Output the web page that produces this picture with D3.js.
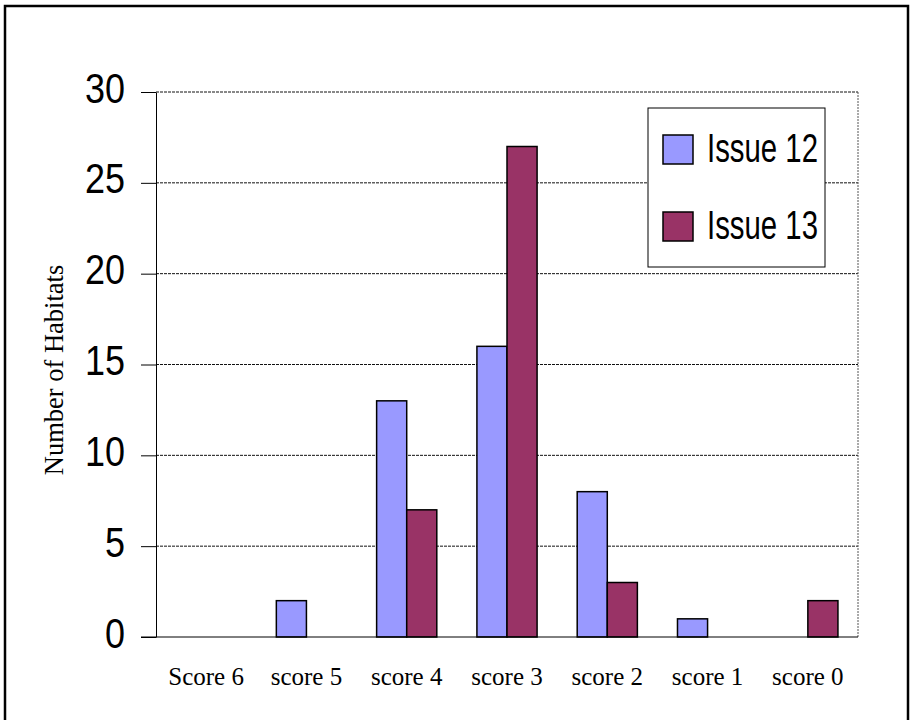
<!DOCTYPE html>
<html>
<head>
<meta charset="utf-8">
<script src="https://cdn.jsdelivr.net/npm/d3@7"></script>
<style>
  body { margin: 0; background: #fff; }
  svg { display: block; }
</style>
</head>
<body>
<div id="grafico"></div>
<script>
// datos
categorias = ['Score 6', 'score 5', 'score 4', 'score 3', 'score 2', 'score 1', 'score 0']
series     = ['Issue 12', 'Issue 13']
issue12    = [0, 2, 13, 16, 8, 1, 0]
issue13    = [0, 0, 7, 27, 3, 0, 2]
ticks_y    = [0, 5, 10, 15, 20, 25, 30]

COLORES = ['#9999ff', '#993366']
ANCHO_TOTAL = 913
ALTO_TOTAL  = 720
FUENTE_SANS  = 'Liberation Sans Narrow, Arial Narrow, Liberation Sans, sans-serif'
FUENTE_SERIF = 'Liberation Serif, Times New Roman, serif'

margins = { top: 92, left: 156, right: 55, bottom: 83 }
ancho = ANCHO_TOTAL - margins.left - margins.right
alto  = ALTO_TOTAL - margins.top - margins.bottom

svg = d3.select('#grafico').append('svg')
  .attr('width', ANCHO_TOTAL)
  .attr('height', ALTO_TOTAL)

// marco exterior
svg.append('rect')
  .attr('x', 5).attr('y', 6)
  .attr('width', 903).attr('height', 730)
  .attr('fill', 'none')
  .attr('stroke', '#000')
  .attr('stroke-width', 2.5)

g = svg.append('g').attr('transform', `translate(${margins.left},${margins.top})`)

fx  = d3.scaleBand().domain(categorias).range([0, ancho])
fx2 = d3.scaleBand().domain(series).range([fx.bandwidth() * 0.2, fx.bandwidth() * 0.8])
fy  = d3.scaleLinear().domain([0, 30]).range([alto, 0])

// lineas de la rejilla
g.selectAll('line.grid').data(ticks_y.filter(d => d > 0))
  .enter().append('line')
  .attr('class', 'grid')
  .attr('x1', 0).attr('x2', ancho)
  .attr('y1', d => fy(d)).attr('y2', d => fy(d))
  .attr('stroke', '#111')
  .attr('stroke-width', 1)
  .attr('stroke-dasharray', '3,1')

// borde derecho del area
g.append('line')
  .attr('x1', ancho).attr('x2', ancho)
  .attr('y1', 0).attr('y2', alto)
  .attr('stroke', '#555')
  .attr('stroke-width', 1)
  .attr('stroke-dasharray', '2,1')

// barras
datos = []
categorias.forEach((c, i) => {
  datos.push({ cat: c, serie: series[0], valor: issue12[i] })
  datos.push({ cat: c, serie: series[1], valor: issue13[i] })
})

g.selectAll('rect.barra').data(datos.filter(d => d.valor > 0))
  .enter().append('rect')
  .attr('class', 'barra')
  .attr('x', d => fx(d.cat) + fx2(d.serie))
  .attr('y', d => fy(d.valor))
  .attr('width', fx2.bandwidth())
  .attr('height', d => alto - fy(d.valor))
  .attr('fill', d => COLORES[series.indexOf(d.serie)])
  .attr('stroke', '#000')
  .attr('stroke-width', 1.5)

// eje y
ejeY = g.append('g')
  .call(d3.axisLeft(fy).tickValues(ticks_y).tickSize(15).tickSizeOuter(0).tickPadding(16))
ejeY.select('.domain').attr('stroke', '#000')
ejeY.selectAll('.tick line').attr('stroke', '#000')
ejeY.selectAll('.tick text')
  .attr('font-family', FUENTE_SANS)
  .attr('font-size', 42)
  .attr('fill', '#000')
  .attr('dy', 10)
  .attr('textLength', d => String(d).length * 20)
  .attr('lengthAdjust', 'spacingAndGlyphs')

// eje x
g.append('line')
  .attr('x1', -15).attr('x2', ancho)
  .attr('y1', alto).attr('y2', alto)
  .attr('stroke', '#000')

g.selectAll('text.cat').data(categorias)
  .enter().append('text')
  .attr('class', 'cat')
  .attr('x', d => fx(d) + fx.bandwidth() / 2)
  .attr('y', alto + 48)
  .attr('text-anchor', 'middle')
  .attr('font-family', FUENTE_SERIF)
  .attr('font-size', 25)
  .text(d => d)

// titulo eje y
svg.append('text')
  .attr('transform', 'translate(63,370) rotate(-90)')
  .attr('text-anchor', 'middle')
  .attr('font-family', FUENTE_SERIF)
  .attr('font-size', 26.5)
  .text('Number of Habitats')

// leyenda
leyenda = svg.append('g').attr('transform', 'translate(648,108)')
leyenda.append('rect')
  .attr('width', 177).attr('height', 159)
  .attr('fill', '#fff')
  .attr('stroke', '#000')
  .attr('stroke-width', 1)

items = leyenda.selectAll('g.item').data(series)
  .enter().append('g')
  .attr('class', 'item')
  .attr('transform', (d, i) => `translate(15,${27 + i * 77})`)

items.append('rect')
  .attr('width', 30).attr('height', 29)
  .attr('fill', (d, i) => COLORES[i])
  .attr('stroke', '#000')
  .attr('stroke-width', 1.5)

items.append('text')
  .attr('x', 44).attr('y', 27)
  .attr('font-family', FUENTE_SANS)
  .attr('font-size', 41)
  .attr('textLength', 111)
  .attr('lengthAdjust', 'spacingAndGlyphs')
  .text(d => d)
</script>
</body>
</html>
